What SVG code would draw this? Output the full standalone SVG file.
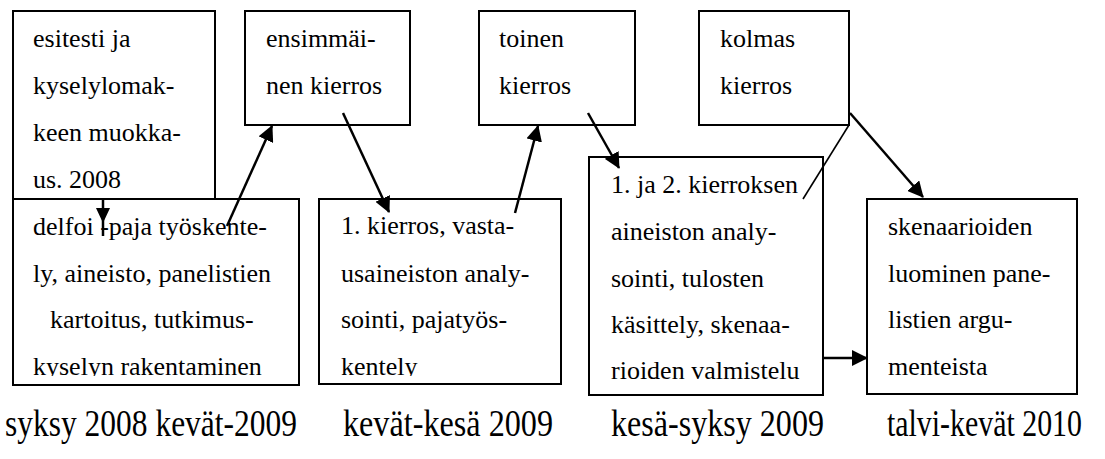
<svg xmlns="http://www.w3.org/2000/svg" width="1105" height="459" viewBox="0 0 1105 459">
<style>
.box{fill:#fff;stroke:#000;stroke-width:2}
.t{font-family:"Liberation Serif","Times New Roman",serif;font-size:26px;fill:#000}
.lbl{font-family:"Liberation Serif","Times New Roman",serif;font-size:32px;fill:#000}
.c{stroke:#000;stroke-width:2.5;fill:none}
</style>
<defs>
<marker id="ah" markerUnits="userSpaceOnUse" markerWidth="16" markerHeight="16" viewBox="0 0 16 16" refX="15" refY="8" orient="auto">
<path d="M0,0 L16,8 L0,16 Z" fill="#000"/>
</marker>
<clipPath id="clipD"><rect x="13" y="199" width="286" height="177"/></clipPath>
<clipPath id="clipK"><rect x="319" y="199" width="242" height="177"/></clipPath>
</defs>
<g id="node-esitesti">
<rect class="box" x="13" y="11" width="202" height="188"/>
<text class="t" x="33" y="47">esitesti ja</text>
<text class="t" x="33" y="94">kyselylomak-</text>
<text class="t" x="33" y="141">keen muokka-</text>
<text class="t" x="33" y="188">us. 2008</text>
</g>
<g id="node-ensimmainen">
<rect class="box" x="245" y="11" width="165" height="114"/>
<text class="t" x="266" y="47">ensimmäi-</text>
<text class="t" x="266" y="94">nen kierros</text>
</g>
<g id="node-toinen">
<rect class="box" x="479" y="11" width="156" height="114"/>
<text class="t" x="499" y="47">toinen</text>
<text class="t" x="499" y="94">kierros</text>
</g>
<g id="node-kolmas">
<rect class="box" x="699" y="11" width="150" height="114"/>
<text class="t" x="720" y="47">kolmas</text>
<text class="t" x="720" y="94">kierros</text>
</g>
<g id="node-delfoi">
<rect class="box" x="13" y="199" width="286" height="186"/>
<g clip-path="url(#clipD)">
<text class="t" x="33" y="235">delfoi -paja työskente-</text>
<text class="t" x="33" y="282">ly, aineisto, panelistien</text>
<text class="t" x="50" y="328">kartoitus, tutkimus-</text>
<text class="t" x="33" y="375">kyselyn rakentaminen</text>
</g>
</g>
<g id="node-kierros1">
<rect class="box" x="319" y="199" width="242" height="185"/>
<g clip-path="url(#clipK)">
<text class="t" x="341" y="234">1. kierros, vasta-</text>
<text class="t" x="341" y="282">usaineiston analy-</text>
<text class="t" x="341" y="328">sointi, pajatyös-</text>
<text class="t" x="341" y="375">kentely</text>
</g>
</g>
<g id="node-kierros12">
<rect class="box" x="589" y="157" width="234" height="238"/>
<text class="t" x="611" y="193">1. ja 2. kierroksen</text>
<text class="t" x="611" y="240">aineiston analy-</text>
<text class="t" x="611" y="287">sointi, tulosten</text>
<text class="t" x="611" y="333">käsittely, skenaa-</text>
<text class="t" x="611" y="379">rioiden valmistelu</text>
</g>
<g id="node-skenaariot">
<rect class="box" x="867" y="199" width="210" height="195"/>
<text class="t" x="888" y="235">skenaarioiden</text>
<text class="t" x="888" y="282">luominen pane-</text>
<text class="t" x="888" y="328">listien argu-</text>
<text class="t" x="888" y="375">menteista</text>
</g>
<g id="connectors">
<line class="c" x1="103" y1="199" x2="103" y2="236"/>
<path d="M96,208 L110,208 L103,223 Z" fill="#000"/>
<line class="c" x1="227" y1="226" x2="272" y2="126" marker-end="url(#ah)"/>
<line class="c" x1="343" y1="113" x2="389" y2="212" marker-end="url(#ah)"/>
<line class="c" x1="515" y1="213" x2="538" y2="126" marker-end="url(#ah)"/>
<line class="c" x1="588" y1="113" x2="619" y2="168" marker-end="url(#ah)"/>
<line stroke="#000" stroke-width="1.6" x1="849" y1="125" x2="803" y2="199"/>
<line class="c" x1="850" y1="113" x2="923" y2="197" marker-end="url(#ah)"/>
<line class="c" x1="823" y1="358" x2="867" y2="358" marker-end="url(#ah)"/>
</g>
<g id="labels">
<text class="lbl" transform="translate(5,436) scale(1,1.2)" x="0" y="0" textLength="292" lengthAdjust="spacingAndGlyphs">syksy 2008 kevät-2009</text>
<text class="lbl" transform="translate(343,436) scale(1,1.2)" x="0" y="0" textLength="210" lengthAdjust="spacingAndGlyphs">kevät-kesä 2009</text>
<text class="lbl" transform="translate(611,436) scale(1,1.2)" x="0" y="0" textLength="213" lengthAdjust="spacingAndGlyphs">kesä-syksy 2009</text>
<text class="lbl" transform="translate(887,436) scale(1,1.2)" x="0" y="0" textLength="195" lengthAdjust="spacingAndGlyphs">talvi-kevät 2010</text>
</g>
</svg>
